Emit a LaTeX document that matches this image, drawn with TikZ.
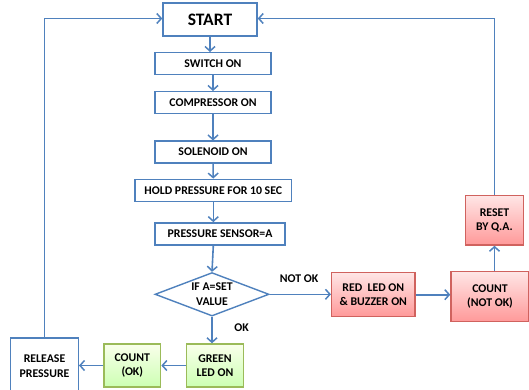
\documentclass[tikz,border=0pt]{standalone}
\usepackage{fontspec}
\setmainfont{Carlito}
\usepackage{tikz}
\usetikzlibrary{shapes.geometric,arrows.meta}
\definecolor{flowblue}{HTML}{4F81BD}
\definecolor{okgreen}{HTML}{9BBB59}
\definecolor{nokred}{HTML}{D0625E}
\tikzstyle{line} = [draw=flowblue, line width=1.6pt, -{Straight Barb[length=4.5pt,width=10pt,line width=1.5pt]}]
\tikzstyle{plainbox} = [draw=flowblue, line width=1.4pt, fill=white, inner sep=0pt, align=center, font=\bfseries\fontsize{11.8}{14.5}\selectfont]
\tikzstyle{greenbox} = [plainbox, draw=okgreen, top color=green!6!lime!8!white, bottom color=lime!45!green!30!white]
\tikzstyle{redbox} = [plainbox, draw=nokred, top color=red!10!white, bottom color=red!40!white]
\tikzstyle{decision} = [diamond, draw=flowblue, line width=1.4pt, fill=white, aspect=2.62, inner sep=0pt, align=center, font=\bfseries\fontsize{11.8}{14.5}\selectfont]
\tikzstyle{tag} = [font=\bfseries\fontsize{11.8}{14.5}\selectfont]
\begin{document}
\begin{tikzpicture}[x=1pt,y=-1pt]
	\useasboundingbox (0,0) rectangle (529,390);
	\clip (0,0) rectangle (529,390);

	% nodes
	\node[plainbox, minimum width=94pt, minimum height=33pt, font=\bfseries\fontsize{17.5}{20}\selectfont] (start) at (210, 19.5) {START};
	\node[plainbox, minimum width=116pt, minimum height=21.6pt] (switch) at (213, 63.5) {SWITCH ON};
	\node[plainbox, minimum width=116pt, minimum height=21.6pt] (compressor) at (213, 102.5) {COMPRESSOR ON};
	\node[plainbox, minimum width=116pt, minimum height=21.6pt] (solenoid) at (213, 152) {SOLENOID ON};
	\node[plainbox, minimum width=156.7pt, minimum height=22pt] (hold) at (213.3, 190.3) {HOLD PRESSURE FOR 10 SEC};
	\node[plainbox, minimum width=130pt, minimum height=22.3pt] (sensor) at (220, 234) {PRESSURE SENSOR=A};
	\node[decision, minimum width=114pt, minimum height=43.5pt] (check) at (212, 294.3) {IF A=SET\\VALUE};
	\node[greenbox, minimum width=56.6pt, minimum height=43pt] (greenled) at (215, 365.5) {GREEN\\LED ON};
	\node[greenbox, minimum width=56.7pt, minimum height=43pt] (countok) at (132.3, 365.5) {COUNT\\(OK)};
	\node[plainbox, minimum width=67.6pt, minimum height=56pt] (release) at (44.5, 366) {RELEASE\\PRESSURE};
	\node[redbox, minimum width=83.3pt, minimum height=44pt] (redled) at (373.3, 294.7) {RED\ \ LED ON\\\& BUZZER ON};
	\node[redbox, minimum width=78pt, minimum height=50pt] (countnok) at (490, 296.7) {COUNT\\(NOT OK)};
	\node[redbox, minimum width=57.5pt, minimum height=49.5pt] (reset) at (494.5, 220.3) {RESET\\BY Q.A.};

	\node[tag] (notok) at (299, 279) {NOT OK};
	\node[tag] (ok) at (241.5, 328) {OK};

	% arrows
	\draw [line] (start.south) -- (start.south |- switch.north);
	\draw [line] (switch) -- (compressor);
	\draw [line] (compressor) -- (solenoid);
	\draw [line] (solenoid) -- (hold);
	\draw [line] (hold.south) -- (hold.south |- sensor.north);
	\draw [line] (hold.south |- sensor.south) -- (check.north);
	\draw [line] (check.south) -- (check.south |- greenled.north);
	\draw [line] (check.east) -- (check.east -| redled.west);
	\draw [line] (redled.east) -- (redled.east -| countnok.west);
	\draw [line] (countnok.north -| reset.south) -- (reset.south);
	\draw [line] (greenled.west) -- (greenled.west -| countok.east);
	\draw [line] (countok.west) -- (countok.west -| release.east);
	\draw [line] (release.north) |- ([yshift=1pt]start.west);
	\draw [line] (reset.north) |- ([yshift=1pt]start.east);

\end{tikzpicture}
\end{document}
